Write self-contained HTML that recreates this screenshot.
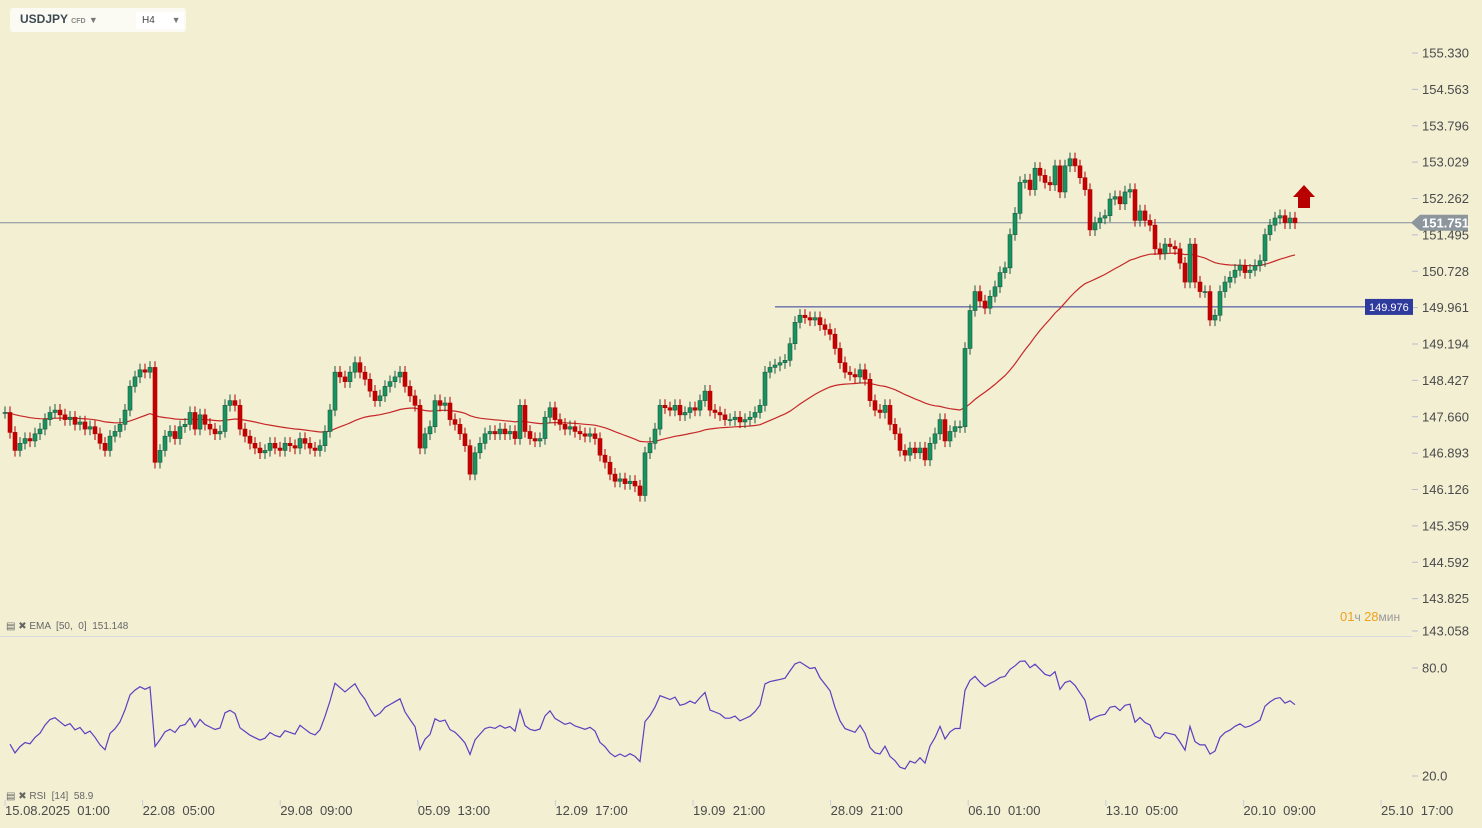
<!DOCTYPE html>
<html><head><meta charset="utf-8"><style>
html,body{margin:0;padding:0;background:#f3efd3;}
body{width:1482px;height:828px;overflow:hidden;position:relative;font-family:"Liberation Sans",sans-serif;}
svg{position:absolute;left:0;top:0;}
svg text{white-space:pre;}
</style></head><body>
<div style="position:absolute;left:10px;top:8px;width:176px;height:24px;background:#fbfbf3;border-radius:3px;">
<span style="position:absolute;left:10px;top:4px;font-size:12px;font-weight:bold;color:#3e4a52;">USDJPY <span style="font-size:7px;color:#888;">CFD</span> <span style="font-size:9px;color:#777;">&#9660;</span></span>
<span style="position:absolute;left:126px;top:4px;width:48px;height:17px;background:#fff;font-size:10px;color:#444;line-height:17px;padding-left:6px;box-sizing:border-box;">H4 <span style="margin-left:14px;color:#777;font-size:9px;">&#9660;</span></span>
</div>
<svg id="chart" width="1482" height="828"></svg>
<script>
const closes=[147.75,147.33,146.95,147.1,147.2,147.15,147.3,147.4,147.6,147.75,147.8,147.7,147.6,147.65,147.5,147.55,147.4,147.45,147.3,147.1,146.95,147.25,147.35,147.5,147.8,148.3,148.5,148.65,148.6,148.7,146.7,146.95,147.25,147.35,147.2,147.45,147.5,147.75,147.4,147.7,147.5,147.4,147.3,147.35,147.9,148.0,147.9,147.4,147.25,147.1,147.0,146.9,146.95,147.1,147.0,146.95,147.1,147.05,147.0,147.2,147.1,147.0,146.95,147.05,147.35,147.8,148.6,148.5,148.4,148.6,148.8,148.6,148.45,148.2,148.0,148.1,148.3,148.4,148.5,148.6,148.3,148.1,147.9,147.0,147.3,147.45,148.0,147.9,147.95,147.6,147.5,147.3,147.05,146.45,146.9,147.1,147.3,147.35,147.3,147.4,147.3,147.35,147.2,147.9,147.35,147.2,147.15,147.2,147.65,147.85,147.6,147.5,147.4,147.45,147.35,147.3,147.25,147.3,147.2,146.85,146.7,146.45,146.3,146.35,146.25,146.3,146.2,146.0,146.9,147.1,147.4,147.9,147.85,147.8,147.9,147.7,147.75,147.85,147.8,148.0,148.2,147.8,147.75,147.7,147.6,147.6,147.65,147.55,147.6,147.65,147.75,147.9,148.6,148.7,148.75,148.8,148.85,149.2,149.65,149.8,149.75,149.7,149.75,149.6,149.5,149.4,149.1,148.8,148.6,148.55,148.5,148.65,148.45,148.0,147.8,147.75,147.9,147.5,147.3,146.95,146.85,147.0,146.9,147.0,146.75,147.1,147.3,147.6,147.15,147.35,147.45,147.45,149.1,149.9,150.3,150.1,149.95,150.2,150.4,150.7,150.8,151.5,151.95,152.6,152.65,152.45,152.9,152.75,152.6,152.55,152.95,152.4,152.95,153.1,152.95,152.7,152.45,151.6,151.75,151.85,151.9,152.25,152.3,152.15,152.4,152.45,151.8,152.0,151.8,151.7,151.2,151.1,151.3,151.25,151.2,150.9,150.5,151.3,150.5,150.3,150.3,149.7,149.8,150.3,150.5,150.6,150.75,150.85,150.7,150.75,150.85,150.95,151.5,151.7,151.85,151.9,151.75,151.85,151.75];
const priceTicks=[155.330,154.563,153.796,153.029,152.262,151.495,150.728,149.961,149.194,148.427,147.660,146.893,146.126,145.359,144.592,143.825,143.058];
const timeLabels=["15.08.2025  01:00","22.08  05:00","29.08  09:00","05.09  13:00","12.09  17:00","19.09  21:00","28.09  21:00","06.10  01:00","13.10  05:00","20.10  09:00","25.10  17:00"];
const rsiTicks=[80.0,20.0];
const currentPrice=151.751, levelPrice=149.976;

const NS="http://www.w3.org/2000/svg";
const svg=document.getElementById('chart');
function el(tag,attrs,parent){const e=document.createElementNS(NS,tag);for(const k in attrs)e.setAttribute(k,attrs[k]);(parent||svg).appendChild(e);return e;}
const yP=p=>53+(155.33-p)*(582/12.272);
const xB=i=>5+i*5;
const yR=v=>776-(v-20)*(108/60);
const txt="#4a4a4a";

const axisG=el('g',{});


priceTicks.forEach((p,i)=>{
  const y=i===priceTicks.length-1?631:yP(p);
  el('line',{x1:1412,x2:1418,y1:y,y2:y,stroke:'#b8bccc'},axisG);
  const t=el('text',{x:1422,y:y+4.5,'font-size':13,fill:txt},axisG);
  t.textContent=p.toFixed(3);
  
  
});
const sep=el('line',{x1:0,x2:1412,y1:636.5,y2:636.5,stroke:'#d9d9dc'});



const cy=yP(currentPrice);
const cl=el('line',{x1:0,x2:1412,y1:cy,y2:cy,stroke:'#7f8d9a','stroke-width':1});


const cp=el('path',{d:`M1411 ${cy} L1420 ${cy-8} L1468 ${cy-8} L1468 ${cy+8} L1420 ${cy+8} Z`,fill:'#8c969c'});


const ct=el('text',{x:1422,y:cy+5,'font-size':13,fill:'#fff','font-weight':'bold'});
ct.textContent=currentPrice.toFixed(3);



const ly=yP(levelPrice);
const ll=el('line',{x1:775,x2:1365,y1:ly,y2:ly,stroke:'#2e3a9c','stroke-width':1});


const lb=el('rect',{x:1365,y:ly-8,width:48,height:16,fill:'#2e3a9c'});


const lt=el('text',{x:1369,y:ly+4,'font-size':11,fill:'#fff'});
lt.textContent=levelPrice.toFixed(3);



const emaPeriod=50, k=2/(emaPeriod+1);
let ema=closes[0], emaPts=[];
closes.forEach((c,i)=>{ema=i?c*k+ema*(1-k):c;emaPts.push(xB(i)+','+yP(ema).toFixed(1));});
const emaL=el('polyline',{points:emaPts.join(' '),fill:'none',stroke:'#c62828','stroke-width':1.2});



const cg=el('g',{});


closes.forEach((c,i)=>{
  const o=i?closes[i-1]:c;
  const up=c>=o;
  const col=up?'#17935f':'#c40000';
  const x=xB(i);
  const hi=Math.max(o,c)+0.13, lo=Math.min(o,c)-0.13;
  el('line',{x1:x,x2:x,y1:yP(hi),y2:yP(lo),stroke:up?'#1d5a40':'#b00000','stroke-width':1},cg);
  const top=yP(Math.max(o,c)), h=Math.max(1,yP(Math.min(o,c))-top);
  const r=el('rect',{x:x-2,y:top,width:4,height:h,fill:col,stroke:up?'#1d5a40':'#b00000','stroke-width':0.6},cg);
  
  
});

const ar=el('path',{d:'M1304 185 L1315 197 L1310 197 L1310 208 L1298 208 L1298 197 L1293 197 Z',fill:'#b80000'});



const eg=el('text',{x:6,y:629,'font-size':10,fill:'#666'});
eg.textContent='▤ ✖ EMA  [50,  0]  151.148';


const timer=el('text',{x:1340,y:621,'font-size':13,fill:'#f0a020'});
timer.innerHTML='01<tspan fill="#999" font-size="12">ч </tspan>28<tspan fill="#999" font-size="12">мин</tspan>';



const rp=14;let ag=0.08,al=0.1,rsiPts=[];
for(let i=1;i<closes.length;i++){
  const d=closes[i]-closes[i-1];const g=Math.max(d,0),l=Math.max(-d,0);
  ag=(ag*(rp-1)+g)/rp;al=(al*(rp-1)+l)/rp;
  const rs=al===0?100:100-100/(1+ag/al);
  rsiPts.push(xB(i)+','+yR(rs).toFixed(1));
}
const rl=el('polyline',{points:rsiPts.join(' '),fill:'none',stroke:'#5a3fc0','stroke-width':1.2});


rsiTicks.forEach(v=>{
  el('line',{x1:1412,x2:1418,y1:yR(v),y2:yR(v),stroke:'#b8bccc'});
  const t=el('text',{x:1422,y:yR(v)+4.5,'font-size':13,fill:txt});
  t.textContent=v.toFixed(1);
  
  
});
const rg=el('text',{x:6,y:799,'font-size':10,fill:'#666'});
rg.textContent='▤ ✖ RSI  [14]  58.9';



timeLabels.forEach((s,i)=>{
  const x=5+i*137.6;
  el('line',{x1:x,x2:x,y1:800,y2:806,stroke:'#c8ccd8'});
  const t=el('text',{x:x,y:815,'font-size':13,fill:txt});
  t.textContent=s;
  
  
});
</script>
</body></html>
